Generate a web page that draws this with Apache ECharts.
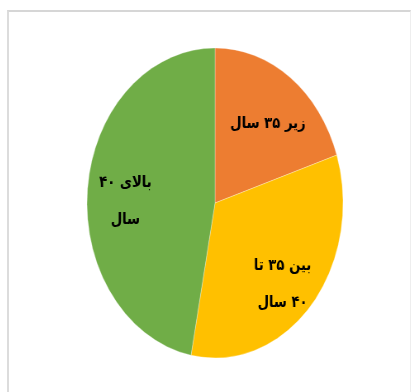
<!DOCTYPE html>
<html>
<head>
<meta charset="utf-8">
<script src="https://cdn.jsdelivr.net/npm/echarts@6/dist/echarts.min.js"></script>
<style>
html,body{margin:0;padding:0;background:#fff;overflow:hidden;}
#frame{position:absolute;left:7px;top:10px;width:404px;height:400px;border-top:2px solid #d6d6d6;border-left:2px solid #dcdcdc;border-right:1px solid #eeeeee;box-sizing:border-box;}
#chart{position:absolute;left:0;top:0;width:419px;height:392px;transform-origin:215px 203px;transform:scaleX(0.826);}
</style>
</head>
<body>
<div id="frame"></div>
<div id="chart"></div>
<script>
var categories = ['زیر ۳۵ سال', 'بین ۳۵ تا\n۴۰ سال', 'بالای ۴۰\nسال'];
var values = [20, 33, 47];
var colors = ['#ED7D31', '#FFC000', '#70AD47'];

var data = categories.map(function (c, i) {
  return { name: c, value: values[i], itemStyle: { color: colors[i] } };
});
var labelData = categories.map(function (c, i) {
  return { name: c, value: values[i] };
});

var chart = echarts.init(document.getElementById('chart'), null, { renderer: 'canvas' });
chart.setOption({
  animation: false,
  backgroundColor: 'transparent',
  series: [
    {
      type: 'pie',
      center: [215, 203],
      radius: [0, 155],
      startAngle: 90,
      clockwise: true,
      silent: true,
      label: { show: false },
      labelLine: { show: false },
      itemStyle: { borderColor: 'rgba(255,255,255,0.6)', borderWidth: 0.5 },
      data: data
    },
    {
      type: 'pie',
      center: [215, 212],
      radius: [52, 160],
      startAngle: 90,
      clockwise: true,
      silent: true,
      itemStyle: { color: 'rgba(0,0,0,0)' },
      labelLine: { show: false },
      label: {
        show: true,
        position: 'inside',
        color: '#000',
        fontFamily: 'DejaVu Sans',
        fontWeight: 'bold',
        fontSize: 16,
        lineHeight: 37,
        formatter: function (p) {
          return p.name.split('\n').map(function (s) { return '\u200F' + s; }).join('\n');
        }
      },
      data: labelData
    }
  ]
});
</script>
</body>
</html>
